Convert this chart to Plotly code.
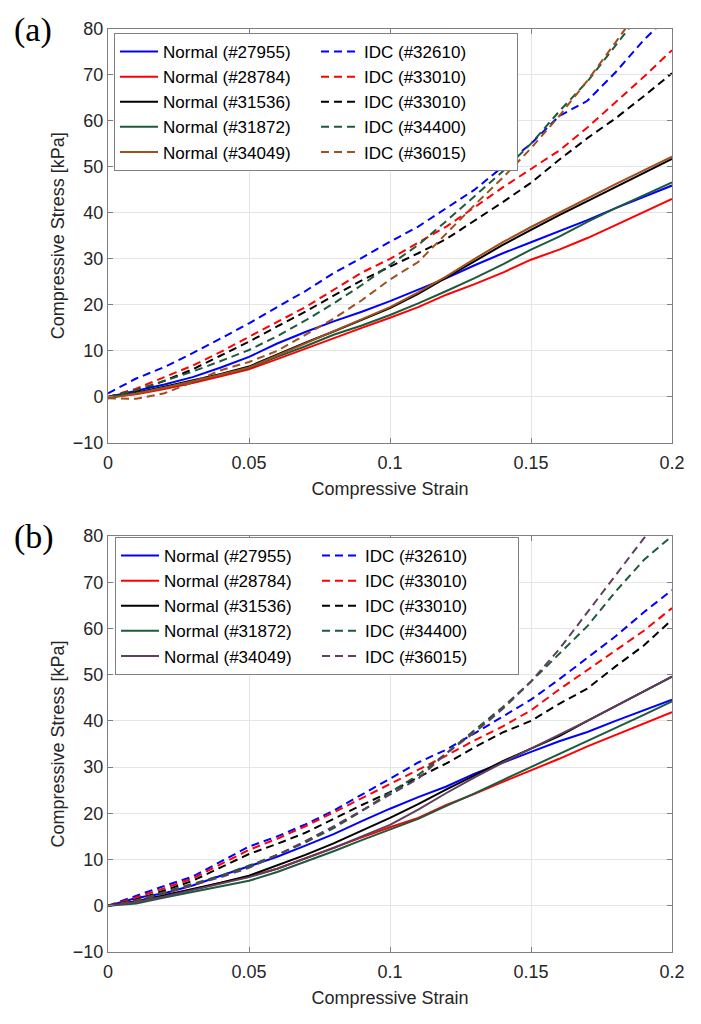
import plotly.graph_objects as go

strain = [0.00, 0.01, 0.02, 0.03, 0.04, 0.05, 0.06, 0.07, 0.08, 0.09, 0.10,
          0.11, 0.12, 0.13, 0.14, 0.15, 0.16, 0.17, 0.18, 0.19, 0.20]

normal_labels = ["Normal (#27955)", "Normal (#28784)", "Normal (#31536)", "Normal (#31872)", "Normal (#34049)"]
idc_labels = ["IDC (#32610)", "IDC (#33010)", "IDC (#33010)", "IDC (#34400)", "IDC (#36015)"]

colors_a = ["#0000FF", "#FF0000", "#000000", "#1E5A3C", "#A0501E"]
colors_b = ["#0000FF", "#FF0000", "#000000", "#1E5A3C", "#5E3F5E"]

# Panel (a)
a_normal_27955 = [0, 1.3, 2.7, 4.3, 6.4, 8.7, 11.6, 14.1, 16.4, 18.5, 20.8, 23.3, 25.8, 28.6, 31.2, 33.6, 36.0, 38.4, 41.0, 43.4, 45.9]
a_normal_28784 = [0, 0.6, 1.7, 3.0, 4.5, 6.0, 8.2, 10.5, 12.8, 15.0, 17.2, 19.5, 22.2, 24.5, 27.0, 29.8, 32.0, 34.5, 37.3, 40.2, 43.0]
a_normal_31536 = [0, 0.9, 2.2, 3.6, 5.0, 6.6, 9.2, 11.8, 14.2, 16.7, 19.3, 22.4, 25.9, 29.5, 33.0, 36.3, 39.5, 42.5, 45.6, 48.7, 51.7]
a_normal_31872 = [0, 0.8, 2.0, 3.3, 4.8, 6.3, 8.7, 11.0, 13.5, 15.5, 17.8, 20.3, 23.0, 25.8, 28.8, 32.0, 34.8, 38.0, 41.0, 43.8, 46.6]
a_normal_34049 = [-0.3, 0.7, 2.0, 3.4, 4.8, 6.4, 9.0, 11.6, 14.2, 16.9, 19.5, 22.7, 26.2, 30.0, 33.6, 36.9, 40.0, 43.2, 46.2, 49.2, 52.2]
a_idc_32610 = [0.8, 4.0, 6.5, 9.5, 12.7, 16.0, 19.5, 23.0, 26.9, 30.2, 33.7, 37.0, 41.0, 45.0, 50.0, 55.0, 61.0, 64.3, 70.5, 77.5, 83.5]
a_idc_33010 = [0, 1.8, 4.3, 6.8, 9.8, 13.1, 16.3, 19.5, 23.2, 27.0, 30.0, 33.5, 37.0, 41.2, 45.5, 49.5, 53.5, 58.5, 64.0, 69.5, 75.3]
a_idc_33010b = [0, 1.3, 3.5, 6.0, 9.0, 12.0, 15.3, 18.5, 22.0, 25.3, 28.3, 31.2, 34.3, 38.3, 42.3, 46.5, 51.5, 56.2, 60.5, 65.3, 70.3]
a_idc_34400 = [0, 1.5, 3.5, 5.5, 7.8, 10.2, 13.2, 16.6, 20.3, 24.3, 28.7, 33.0, 38.2, 43.5, 49.0, 55.0, 62.0, 68.5, 76.5, 84.5, 92.0]
a_idc_36015 = [-0.3, -0.4, 0.8, 3.2, 5.8, 7.6, 10.0, 13.5, 17.0, 21.0, 25.5, 29.3, 35.5, 41.7, 47.6, 54.0, 61.0, 68.7, 77.0, 85.5, 94.0]

# Panel (b)
b_normal_27955 = [0, 1.7, 2.7, 4.4, 6.5, 8.6, 10.6, 13.0, 15.5, 18.3, 21.0, 23.5, 25.8, 28.6, 31.0, 33.3, 35.6, 37.6, 40.0, 42.3, 44.6]
b_normal_28784 = [0, 1.0, 2.2, 3.5, 5.0, 6.3, 8.0, 10.3, 12.5, 14.8, 17.0, 19.0, 21.8, 24.2, 26.8, 29.3, 31.8, 34.5, 37.0, 39.5, 41.9]
b_normal_31536 = [0, 1.0, 2.3, 3.6, 5.0, 6.5, 8.7, 11.0, 13.5, 16.3, 19.0, 22.0, 25.2, 28.2, 31.3, 34.0, 36.7, 40.0, 43.2, 46.4, 49.6]
b_normal_31872 = [0, 0.5, 1.8, 3.0, 4.3, 5.4, 7.3, 9.5, 11.8, 14.2, 16.5, 18.8, 21.6, 24.3, 27.2, 30.0, 32.8, 35.6, 38.5, 41.3, 44.2]
b_normal_34049 = [0, 0.8, 2.0, 3.4, 4.9, 6.2, 8.0, 10.2, 12.5, 15.0, 17.5, 20.8, 24.4, 27.8, 31.0, 34.0, 37.0, 40.0, 43.2, 46.4, 49.6]
b_idc_32610 = [0, 2.2, 4.3, 6.3, 9.5, 12.8, 15.0, 17.6, 20.6, 24.0, 27.5, 31.0, 33.8, 37.3, 41.0, 44.6, 49.0, 53.6, 58.3, 63.5, 68.3]
b_idc_33010 = [0, 1.8, 3.8, 5.9, 9.0, 12.1, 14.5, 17.2, 20.2, 23.3, 26.4, 29.5, 32.5, 35.8, 38.8, 42.3, 46.8, 51.0, 55.3, 59.5, 64.4]
b_idc_33010b = [0, 1.3, 3.3, 5.4, 8.3, 11.2, 13.4, 15.8, 18.8, 21.8, 24.6, 27.8, 30.8, 34.3, 37.5, 40.0, 43.7, 47.0, 51.8, 56.3, 61.9]
b_idc_34400 = [0, 1.2, 3.0, 4.8, 6.5, 8.7, 11.0, 13.7, 16.8, 20.5, 24.5, 28.3, 33.0, 38.0, 43.0, 48.5, 54.5, 60.5, 68.0, 74.8, 80.0]
b_idc_36015 = [0, 1.0, 2.7, 4.4, 6.2, 8.2, 11.0, 14.0, 17.2, 20.6, 24.0, 27.5, 33.0, 37.5, 42.6, 48.5, 55.5, 63.5, 71.5, 79.5, 87.0]

a_normal = [a_normal_27955, a_normal_28784, a_normal_31536, a_normal_31872, a_normal_34049]
a_idc = [a_idc_32610, a_idc_33010, a_idc_33010b, a_idc_34400, a_idc_36015]
b_normal = [b_normal_27955, b_normal_28784, b_normal_31536, b_normal_31872, b_normal_34049]
b_idc = [b_idc_32610, b_idc_33010, b_idc_33010b, b_idc_34400, b_idc_36015]

x_ticks = [0, 0.05, 0.1, 0.15, 0.2]
x_ticktext = ["0", "0.05", "0.1", "0.15", "0.2"]
y_ticks = [-10, 0, 10, 20, 30, 40, 50, 60, 70, 80]

fig = go.Figure()

def add_panel(normal, idc, colors, xa, ya, leg):
    for i in range(5):
        fig.add_trace(go.Scatter(x=strain, y=normal[i], mode="lines", name=normal_labels[i],
                                 line=dict(color=colors[i], width=2), xaxis=xa, yaxis=ya, legend=leg))
        fig.add_trace(go.Scatter(x=strain, y=idc[i], mode="lines", name=idc_labels[i],
                                 line=dict(color=colors[i], width=2, dash="8px,5px"), xaxis=xa, yaxis=ya, legend=leg))

add_panel(a_normal, a_idc, colors_a, "x", "y", "legend")
add_panel(b_normal, b_idc, colors_b, "x2", "y2", "legend2")

W, H = 701, 1024
ML, MR = 108, 29
PW = W - ML - MR
ya_dom = [1 - 443 / H, 1 - 28.5 / H]
yb_dom = [1 - 952 / H, 1 - 536 / H]

tickfont = dict(family="Liberation Sans, Arial, sans-serif", size=18, color="#262626")
axcommon = dict(showline=True, linecolor="#808080", linewidth=1, mirror="ticks",
                ticks="inside", ticklen=5, tickcolor="#808080", showgrid=True,
                gridcolor="#e5e5e5", gridwidth=1, zeroline=False, tickfont=tickfont)

xcommon = dict(axcommon, range=[0, 0.2], tickvals=x_ticks, ticktext=x_ticktext,
               ticklabelstandoff=3,
               title=dict(text="Compressive Strain", font=tickfont, standoff=10))
ycommon = dict(axcommon, range=[-10, 80], tickvals=y_ticks,
               title=dict(text="Compressive Stress [kPa]", font=tickfont, standoff=3))

legcommon = dict(orientation="h", xanchor="left", yanchor="top", bgcolor="white",
                 bordercolor="#808080", borderwidth=1, itemwidth=38, traceorder="normal",
                 entrywidth=148, entrywidthmode="pixels",
                 font=dict(family="Liberation Sans, Arial, sans-serif", size=17, color="#000000"))

fig.update_layout(
    width=W, height=H, margin=dict(l=ML, r=MR, t=0, b=0, pad=0, autoexpand=False),
    paper_bgcolor="white", plot_bgcolor="white", showlegend=True,
    xaxis=dict(xcommon, domain=[0, 1], anchor="y"),
    yaxis=dict(ycommon, domain=ya_dom, anchor="x"),
    xaxis2=dict(xcommon, domain=[0, 1], anchor="y2"),
    yaxis2=dict(ycommon, domain=yb_dom, anchor="x2"),
    legend=dict(legcommon, x=6 / PW, y=1 - 33 / H),
    legend2=dict(legcommon, x=7 / PW, y=1 - 537 / H),
    annotations=[
        dict(text="(a)", x=(12 - ML) / PW, y=1 - 30 / H, xref="paper", yref="paper", xanchor="left",
             yanchor="middle", showarrow=False,
             font=dict(family="Liberation Serif, Times New Roman, serif", size=34, color="#000000")),
        dict(text="(b)", x=(12 - ML) / PW, y=1 - 537 / H, xref="paper", yref="paper", xanchor="left",
             yanchor="middle", showarrow=False,
             font=dict(family="Liberation Serif, Times New Roman, serif", size=34, color="#000000")),
    ],
)

fig.write_html("out.html", config={"displayModeBar": False},
               post_script="document.body.style.margin='0';document.body.style.padding='0';")
